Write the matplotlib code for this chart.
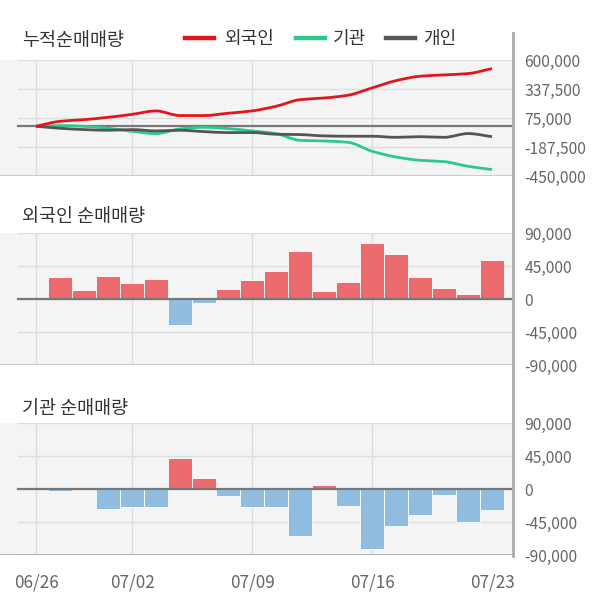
import numpy as np
import matplotlib
matplotlib.use("Agg")
from matplotlib import pyplot as plt
from matplotlib.path import Path
from matplotlib.patches import PathPatch
from matplotlib.lines import Line2D

plt.rcParams['font.family'] = ['Noto Sans CJK KR', 'DejaVu Sans']

# trading days
dates = ["06/26", "06/27", "06/30", "07/01", "07/02", "07/03", "07/04", "07/07", "07/08", "07/09",
         "07/10", "07/11", "07/14", "07/15", "07/16", "07/17", "07/18", "07/21", "07/22", "07/23"]
tick_dates = ["06/26", "07/02", "07/09", "07/16", "07/23"]

# cumulative net buying
cum_foreign = [0, 45000, 60000, 81000, 108000, 139000, 97000, 97000, 118000, 139000,
               181000, 241000, 256000, 281000, 347000, 413000, 453000, 465000, 477000, 522000]
cum_inst = [0, 6000, 0, -18000, -45000, -66000, -24000, -9000, -21000, -42000,
            -66000, -127000, -133000, -145000, -226000, -278000, -308000, -320000, -362000, -392000]
cum_indiv = [0, -18000, -30000, -36000, -30000, -42000, -36000, -48000, -57000, -57000,
             -72000, -75000, -87000, -90000, -90000, -100000, -94000, -100000, -66000, -94000]

# daily net buying (first day has no bar)
foreign_daily = [0, 30500, 12700, 31800, 22300, 27700, -35000, -5000, 14100, 26400,
                 38600, 65900, 11400, 23600, 76800, 61800, 30500, 15500, 7300, 53600]
inst_daily = [0, -3200, 0, -26600, -25200, -23900, 41800, 15600, -10100, -23900,
              -23900, -63800, 6000, -22500, -81700, -50000, -34900, -8700, -44500, -28000]

top_ticks = [600000, 337500, 75000, -187500, -450000]
bar_ticks = [90000, 45000, 0, -45000, -90000]

RED = "#e3151c"
GREEN = "#2bc98a"
GRAY = "#555555"
POS = "#ec6b6e"
NEG = "#91bde0"
BG = "#f4f4f4"
GRID = "#dddddd"
TXT = "#666666"


def smooth_path(x, y):
    # monotone cubic (Fritsch-Carlson) drawn as bezier segments
    x = np.asarray(x, float)
    y = np.asarray(y, float)
    h = np.diff(x)
    d = np.diff(y) / h
    m = np.zeros_like(y)
    m[0], m[-1] = d[0], d[-1]
    for k in range(1, len(y) - 1):
        if d[k - 1] * d[k] <= 0:
            m[k] = 0
        else:
            m[k] = 2 / (1 / d[k - 1] + 1 / d[k])
    verts = [(x[0], y[0])]
    codes = [Path.MOVETO]
    for k in range(len(x) - 1):
        dx = h[k] / 3
        verts += [(x[k] + dx, y[k] + m[k] * dx), (x[k + 1] - dx, y[k + 1] - m[k + 1] * dx), (x[k + 1], y[k + 1])]
        codes += [Path.CURVE4] * 3
    return Path(verts, codes)


idx = np.arange(len(dates))
xlim = (-1.5, 19.833)
grid_start = (0.75) / (xlim[1] - xlim[0])
vgrid = [dates.index(d) for d in tick_dates[:-1]]

fig = plt.figure(figsize=(6, 6.04), dpi=100)
W = 512 / 600


def make_ax(top_px, bot_px, ticks):
    ax = fig.add_axes([0, 1 - bot_px / 604, W, (bot_px - top_px) / 604])
    ax.set_facecolor(BG)
    ax.set_xlim(*xlim)
    ax.set_ylim(ticks[-1], ticks[0])
    for s in ax.spines.values():
        s.set_visible(False)
    for t in ticks:
        ax.axhline(t, xmin=grid_start, color=GRID, lw=1, zorder=0)
    for v in vgrid:
        ax.axvline(v, color=GRID, lw=1, zorder=0)
    ax.set_xticks([])
    ax.yaxis.tick_right()
    ax.set_yticks(ticks)
    ax.set_yticklabels([f"{t:,}" for t in ticks])
    ax.tick_params(axis='y', length=0, pad=9, labelsize=11.3, labelcolor=TXT)
    for lab in ax.get_yticklabels():
        lab.set_horizontalalignment('left')
    return ax


# cumulative panel
ax1 = make_ax(60, 176, top_ticks)
ax1.axhline(0, xmin=grid_start, color="#777777", lw=1.6, zorder=1)
ax1.axhline(top_ticks[-1], color="#cccccc", lw=1.5, zorder=1)
for series, col in [(cum_inst, GREEN), (cum_indiv, GRAY), (cum_foreign, RED)]:
    ax1.add_patch(PathPatch(smooth_path(idx, series), fill=False, edgecolor=col, lw=2.0, zorder=3))

fig.text(22 / 600, 1 - 41 / 604, "누적순매매량", fontsize=13.3, color="#333333", va='center')
leg = [(185, 224, RED, "외국인"), (296, 333, GREEN, "기관"), (386, 423, GRAY, "개인")]
for x0, tx, col, lab in leg:
    fig.add_artist(Line2D([x0 / 600, (x0 + 29) / 600], [1 - 38 / 604] * 2, color=col, lw=3.2))
    fig.text(tx / 600, 1 - 39 / 604, lab, fontsize=13, color="#333333", va='center')


def bar_panel(top_px, bot_px, vals, title, title_px, bottom_dark):
    ax = make_ax(top_px, bot_px, bar_ticks)
    cols = [POS if v >= 0 else NEG for v in vals]
    ax.bar(idx[1:], vals[1:], width=1.0, color=cols[1:], edgecolor="white", linewidth=0.6, zorder=2)
    ax.axhline(0, xmin=grid_start, color="#777777", lw=1.6, zorder=3)
    if bottom_dark:
        ax.axhline(bar_ticks[-1], color="#aaaaaa", lw=2, zorder=3)
    else:
        ax.axhline(bar_ticks[-1], color="#cccccc", lw=1.5, zorder=3)
    fig.text(22 / 600, 1 - title_px / 604, title, fontsize=13.3, color="#333333", va='center')
    return ax


ax2 = bar_panel(233, 365, foreign_daily, "외국인 순매매량", 217, False)
ax3 = bar_panel(423, 555, inst_daily, "기관 순매매량", 409, True)

# date labels
ax3.set_xticks([dates.index(d) for d in tick_dates])
ax3.set_xticklabels(tick_dates)
ax3.tick_params(axis='x', length=0, pad=13, labelsize=12.3, labelcolor=TXT)

# right border line
fig.add_artist(Line2D([513 / 600] * 2, [1 - 33 / 604, 1 - 556 / 604], color="#aaaaaa", lw=2))

fig.savefig("out.png", dpi=100)
